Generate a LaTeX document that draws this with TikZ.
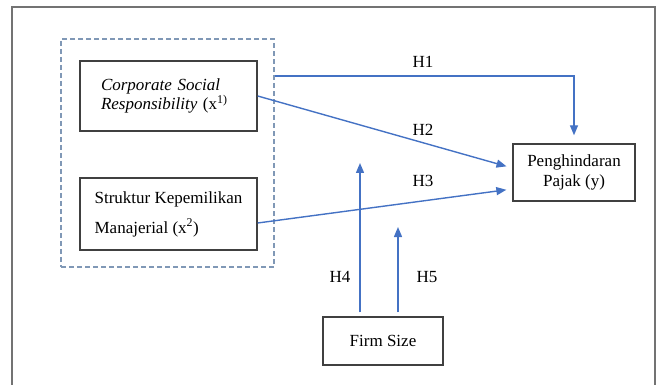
\documentclass[tikz,border=0pt]{standalone}
\usepackage{fontspec}
\setmainfont{Liberation Serif}
\usetikzlibrary{shapes, positioning, arrows.meta, calc}
\definecolor{arrowblue}{RGB}{68,114,196}
\definecolor{groupblue}{RGB}{128,152,182}
\definecolor{boxgray}{RGB}{64,64,64}

\begin{document}
\begin{tikzpicture}[
    x=1pt, y=-1pt,
    font=\fontsize{17}{19}\selectfont,
    varbox/.style={rectangle, draw=boxgray, line width=1.4pt, fill=white, inner sep=2pt, align=left},
    hyp/.style={draw=arrowblue, line width=1.4pt, -{Triangle[length=10pt,width=8pt]}},
    hlabel/.style={draw=none, fill=none, inner sep=0pt}
]
    \useasboundingbox (0,0) rectangle (659,385);

    % Frame
    \draw[draw=gray!90!black, line width=1.6pt] (12,395) -- (12,7) -- (655,7) -- (655,395);

    % Group (dashed)
    \node[draw=groupblue, line width=1.3pt, dash pattern=on 5pt off 3pt,
          minimum width=213pt, minimum height=228pt, inner sep=0pt] (grp) at (167.5,153) {};

    % Nodes
    \node[varbox, text width=135pt, minimum width=177pt, minimum height=70pt] (csr) at (168.5,96)
        {\textit{Corporate Social}\\\textit{Responsibility} (x\textsuperscript{1)}};
    \node[varbox, minimum width=177pt, minimum height=72pt,
          font=\fontsize{17}{30}\selectfont] (skm) at (168.5,214)
        {Struktur Kepemilikan\\Manajerial (x\textsuperscript{2})};
    \node[varbox, align=center, minimum width=122pt, minimum height=57pt,
          font=\fontsize{17}{20}\selectfont] (ph) at (574,172.5)
        {Penghindaran\\Pajak (y)};
    \node[varbox, minimum width=120pt, minimum height=48pt] (fs) at (383,341) {Firm Size};

    % Moderation ends
    \coordinate (h4end) at (360,163);
    \coordinate (h5end) at (398,227);

    % Edges
    \draw[hyp] ($(grp.north east)+(0,37.5)$) -| ([yshift=8pt]ph.north);
    \draw[hyp, shorten >=6pt] (csr.east) -- ([yshift=4.5pt]ph.west);
    \draw[hyp, shorten >=6pt] ([yshift=-9pt]skm.east) -- ([yshift=-16.5pt]ph.west);
    \draw[hyp] ([xshift=-23pt, yshift=4pt]fs.north) -- (h4end);
    \draw[hyp] ([xshift=15pt, yshift=4pt]fs.north) -- (h5end);

    % Hypothesis labels
    \node[hlabel] (l1) at (423,62) {H1};
    \node[hlabel] (l2) at (423,130) {H2};
    \node[hlabel] (l3) at (423,181) {H3};
    \node[hlabel] (l4) at (340,277) {H4};
    \node[hlabel] (l5) at (427,277) {H5};
\end{tikzpicture}
\end{document}
